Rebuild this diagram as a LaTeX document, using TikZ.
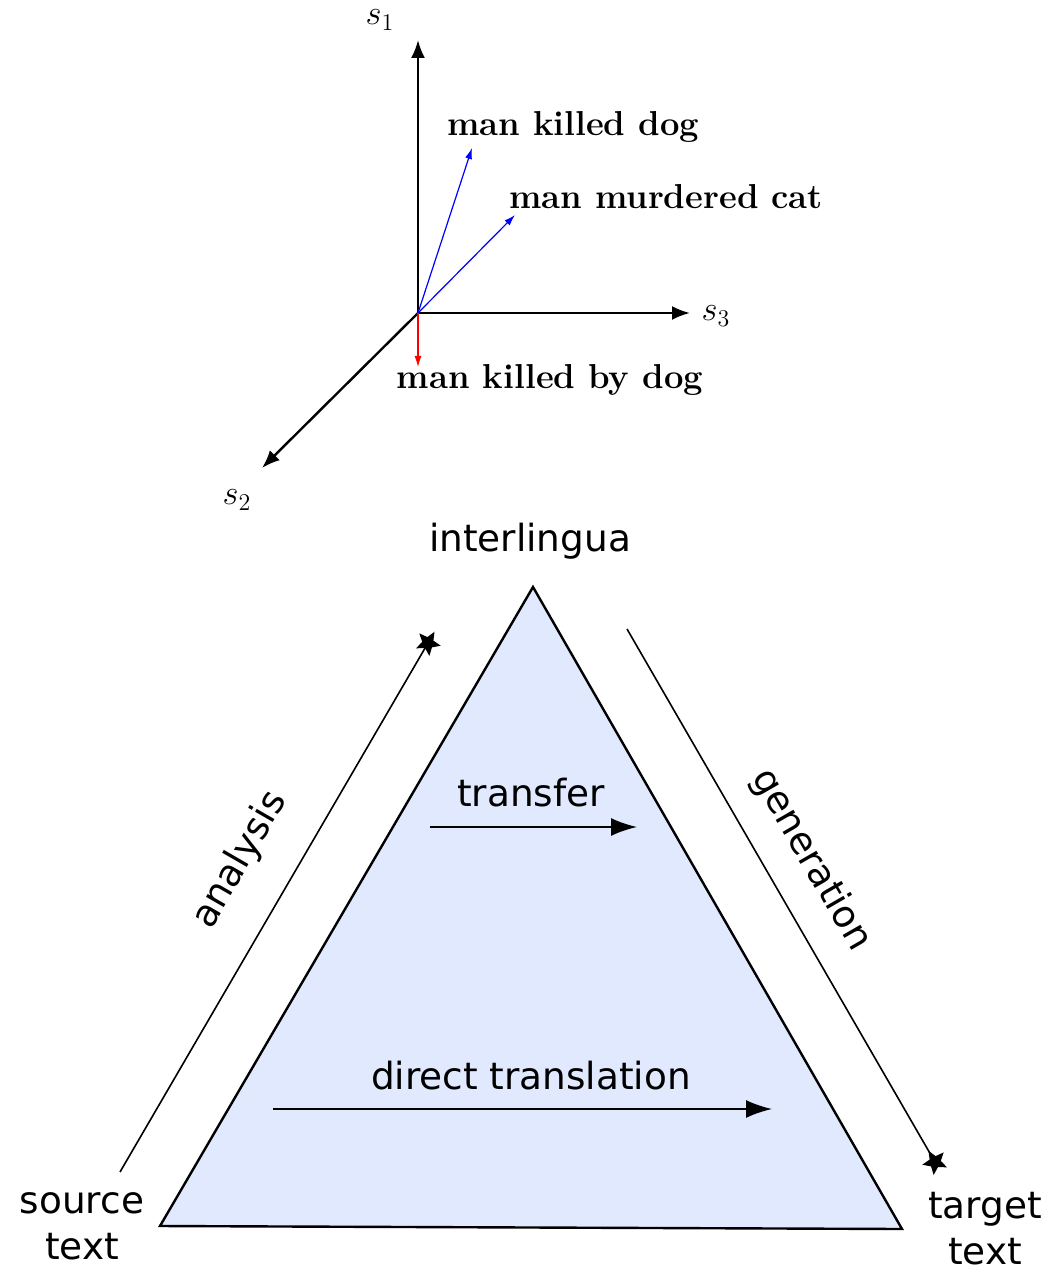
\documentclass[tikz,border=0pt]{standalone}
\usepackage{fontspec}
\usepackage{tikz}
\usetikzlibrary{arrows.meta, shapes.geometric}

\newfontfamily\dejavu{DejaVu Sans}

\tikzset{
	axis/.style={line width=1.2pt, -{Latex[length=9pt, width=7pt]}},
	vec/.style={line width=0.6pt, -{Latex[length=5.5pt, width=3.5pt]}},
	sent/.style={font=\fontsize{17.3}{20}\selectfont\bfseries},
	axlabel/.style={font=\fontsize{17}{20}\selectfont},
	lbl/.style={font=\dejavu\fontsize{18.7}{23}\selectfont, align=center},
	flow/.style={line width=1pt, -{Latex[length=13pt, width=9pt]}},
	startip/.style={star, star points=5, star point ratio=2.2, fill=black,
		inner sep=0pt, minimum size=13pt},
}

\begin{document}
\begin{tikzpicture}[x=0.5pt, y=-0.5pt]
	\useasboundingbox (0,0) rectangle (1048,1272);

	% vector space
	\coordinate (origin) at (418,313);
	\coordinate (s1end) at (418,40);
	\coordinate (s2end) at (262,468);
	\coordinate (s3end) at (690,313);

	\node[axlabel] (s1) at (380,20)  {$s_1$};
	\node[axlabel] (s2) at (237,500) {$s_2$};
	\node[axlabel] (s3) at (716,316) {$s_3$};

	\draw[axis] (origin) -- (s1end);
	\draw[axis] (origin) -- (s2end);
	\draw[axis] (origin) -- (s3end);

	\coordinate (dogend) at (472,148);
	\coordinate (catend) at (515,215);
	\coordinate (byend)  at (418,367);

	\node[sent] (killeddog)   at (573,127) {man killed dog};
	\node[sent] (murderedcat) at (666,197) {man murdered cat};
	\node[sent] (killedby)    at (550,380) {man killed by dog};

	\draw[vec, blue] (origin) -- (dogend);
	\draw[vec, blue] (origin) -- (catend);
	\draw[vec, red]  (origin) -- (byend);

	% translation triangle
	\coordinate (src)   at (160,1226);
	\coordinate (inter) at (533,587);
	\coordinate (tgt)   at (902,1229);

	\filldraw[fill={rgb,255:red,224;green,233;blue,253}, line width=1.2pt,
		line join=miter] (src) -- (inter) -- (tgt) -- cycle;

	\node[lbl] (interlingua) at (530,541) {interlingua};
	\node[lbl] (source) at (82,1226)  {source\\text};
	\node[lbl] (target) at (985,1229) {target\\text};

	\coordinate (anstart) at (120,1172);
	\node[startip, rotate=-30] (anstar) at (428,643) {};
	\coordinate (genstart) at (627,629);
	\node[startip, rotate=30] (genstar) at (935,1162) {};

	\draw[line width=0.8pt] (anstart) -- (anstar.center);
	\draw[line width=0.8pt] (genstart) -- (genstar.center);

	\node[lbl, rotate=60]  (analysis)   at (240,860) {analysis};
	\node[lbl, rotate=-60] (generation) at (811,860) {generation};

	\node[lbl] (transfer) at (531,793) {transfer};
	\coordinate (trstart) at (430,827);
	\coordinate (trend)   at (637,827);
	\draw[flow] (trstart) -- (trend);

	\node[lbl] (direct) at (531,1076) {direct translation};
	\coordinate (drstart) at (273,1109);
	\coordinate (drend)   at (772,1109);
	\draw[flow] (drstart) -- (drend);
\end{tikzpicture}
\end{document}
